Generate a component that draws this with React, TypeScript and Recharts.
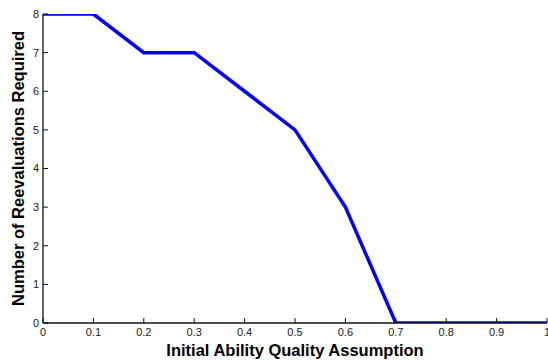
import React from "react";
import { LineChart, Line, XAxis, YAxis, Label } from "recharts";

const xValues = [0, 0.1, 0.2, 0.3, 0.4, 0.5, 0.6, 0.7, 0.8, 0.9, 1.0];
const reevaluations = [8, 8, 7, 7, 6, 5, 3, 0, 0, 0, 0];
const xTicks = [0, 0.1, 0.2, 0.3, 0.4, 0.5, 0.6, 0.7, 0.8, 0.9, 1];
const yTicks = [0, 1, 2, 3, 4, 5, 6, 7, 8];
const xTitle = "Initial Ability Quality Assumption";
const yTitle = "Number of Reevaluations Required";

const data = xValues.map((x, i) => ({ x, y: reevaluations[i] }));

const FONT = "Liberation Sans, Arial, Helvetica, sans-serif";
const tickStyle = { fontSize: 11, fill: "#222", fontFamily: FONT };
const axisLine = { stroke: "#111", strokeWidth: 1.3 };

const YTitle = (props: any) => {
  const vb = props.viewBox || {};
  const cx = 18;
  const cy = (vb.y ?? 14) + (vb.height ?? 309) / 2;
  return (
    <text
      x={cx}
      y={cy}
      transform={`rotate(-90, ${cx}, ${cy})`}
      textAnchor="middle"
      dominantBaseline="central"
      fontFamily={FONT}
      fontWeight="bold"
      fontSize={16.5}
      fill="#000"
    >
      {yTitle}
    </text>
  );
};

const XTitle = (props: any) => {
  const vb = props.viewBox || {};
  const cx = (vb.x ?? 43) + (vb.width ?? 504) / 2;
  return (
    <text
      x={cx}
      y={356}
      textAnchor="middle"
      fontFamily={FONT}
      fontWeight="bold"
      fontSize={16.5}
      fill="#000"
    >
      {xTitle}
    </text>
  );
};

export default function App() {
  return (
    <div style={{ position: "absolute", left: 0, top: 0, width: 548, height: 360, background: "#fff" }}>
      <LineChart
        width={548}
        height={360}
        data={data}
        margin={{ top: 14, right: 1, bottom: 0, left: 0 }}
      >
        <XAxis
          xAxisId="bottom"
          dataKey="x"
          type="number"
          domain={[0, 1]}
          ticks={xTicks}
          interval={0}
          height={37}
          tickSize={-5}
          tickMargin={10}
          tick={tickStyle}
          axisLine={axisLine}
          tickLine={{ stroke: "#111" }}
          allowDataOverflow
        >
          <Label content={<XTitle />} />
        </XAxis>
        <XAxis
          xAxisId="top"
          orientation="top"
          dataKey="x"
          type="number"
          domain={[0, 1]}
          ticks={xTicks}
          interval={0}
          height={0}
          tickSize={-5}
          tick={false}
          axisLine={axisLine}
          tickLine={{ stroke: "#111" }}
        />
        <YAxis
          yAxisId="left"
          type="number"
          domain={[0, 8]}
          ticks={yTicks}
          interval={0}
          width={43}
          tickSize={-5}
          tickMargin={9}
          tick={tickStyle}
          axisLine={axisLine}
          tickLine={{ stroke: "#111" }}
          allowDataOverflow
        >
          <Label content={<YTitle />} />
        </YAxis>
        <YAxis
          yAxisId="right"
          orientation="right"
          type="number"
          domain={[0, 8]}
          ticks={yTicks}
          interval={0}
          width={0}
          tickSize={-5}
          tick={false}
          axisLine={axisLine}
          tickLine={{ stroke: "#111" }}
        />
        <Line
          xAxisId="bottom"
          yAxisId="left"
          type="linear"
          dataKey="y"
          stroke="#0000ff"
          strokeWidth={3.5}
          dot={false}
          isAnimationActive={false}
        />
      </LineChart>
    </div>
  );
}
